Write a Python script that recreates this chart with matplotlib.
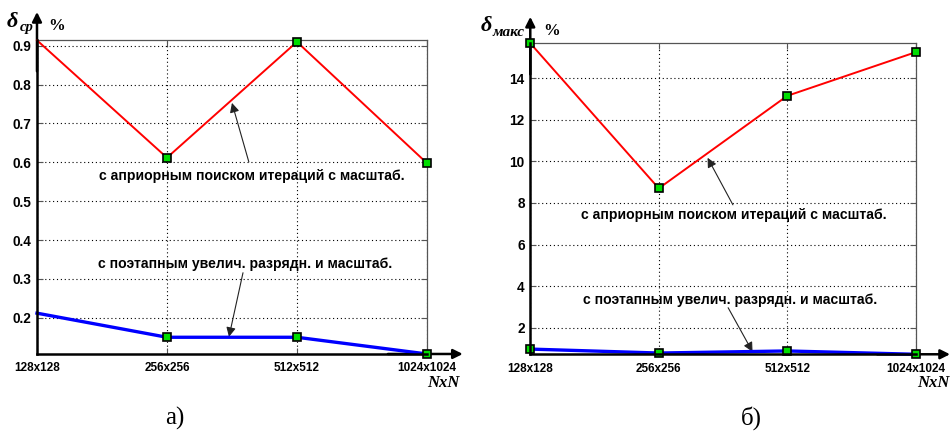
import numpy as np
import matplotlib
matplotlib.use('Agg')
import matplotlib.pyplot as plt

sizes = ['128x128', '256x256', '512x512', '1024x1024']

# а) средняя погрешность, %
avg_apriori = [0.914, 0.612, 0.910, 0.598]
avg_stepwise = [0.212, 0.150, 0.150, 0.107]

# б) максимальная погрешность, %
max_apriori = [15.68, 8.70, 13.15, 15.25]
max_stepwise = [0.97, 0.78, 0.88, 0.72]

label_apriori = 'с априорным поиском итераций с масштаб.'
label_stepwise = 'с поэтапным увелич. разрядн. и масштаб.'

sans = 'Liberation Sans'
serif = 'Liberation Serif'


def style_axes(ax, yticks, ylim):
    x = np.arange(1, len(sizes) + 1)
    ax.set_xlim(1, len(sizes))
    ax.set_ylim(*ylim)
    ax.set_xticks(x)
    ax.set_xticklabels(sizes)
    ax.set_yticks(yticks)
    ax.set_yticklabels([('%g' % t) for t in yticks])
    for lab in ax.get_xticklabels():
        lab.set_fontfamily(sans)
        lab.set_fontweight('bold')
        lab.set_fontsize(8.5)
    for lab in ax.get_yticklabels():
        lab.set_fontfamily(sans)
        lab.set_fontweight('bold')
        lab.set_fontsize(9.8)
    ax.tick_params(direction='in', top=True, right=True, length=4,
                   width=0.8, color='#555555')
    ax.tick_params(axis='x', pad=6)
    ax.tick_params(axis='y', pad=4)
    ax.grid(True, color='black', linestyle=(0, (1, 2.5)), linewidth=0.8)
    for s in ['top', 'right']:
        ax.spines[s].set_color('#555555')
        ax.spines[s].set_linewidth(0.9)
    for s in ['left', 'bottom']:
        ax.spines[s].set_color('black')
        ax.spines[s].set_linewidth(1.8)
        ax.spines[s].set_zorder(5)
    return x


def axis_arrows(ax, ytip, xtip):
    ax.annotate('', xy=(0, ytip), xytext=(0, 0.9), xycoords='axes fraction',
                arrowprops=dict(arrowstyle='-|>', color='black', lw=1.8,
                                mutation_scale=14, shrinkA=0, shrinkB=0),
                annotation_clip=False)
    ax.annotate('', xy=(xtip, 0), xytext=(0.9, 0), xycoords='axes fraction',
                arrowprops=dict(arrowstyle='-|>', color='black', lw=1.8,
                                mutation_scale=14, shrinkA=0, shrinkB=0),
                annotation_clip=False)


def pointer(ax, text_xy, tail, tip, text):
    ax.text(text_xy[0], text_xy[1], text, ha='center', va='center',
            fontfamily=sans, fontweight='bold', fontsize=10.1, zorder=6)
    ax.annotate('', xy=tip, xytext=tail,
                arrowprops=dict(arrowstyle='-|>', color='#222222', lw=0.8,
                                mutation_scale=14, shrinkA=0, shrinkB=0))


fig = plt.figure(figsize=(9.51, 4.32), dpi=100)

# ---- а)
ax1 = fig.add_axes([0.0389, 0.1806, 0.410, 0.727])
x = style_axes(ax1, [0.2, 0.3, 0.4, 0.5, 0.6, 0.7, 0.8, 0.9], (0.107, 0.915))
ax1.plot(x, avg_apriori, color='red', lw=1.4, marker='s', markersize=6,
         markerfacecolor='#00dd00', markeredgecolor='black', markeredgewidth=1.2,
         markevery=[1, 2, 3], clip_on=False, zorder=4)
ax1.plot(x, avg_stepwise, color='#0000ff', lw=2.4, marker='s', markersize=6,
         markerfacecolor='#00dd00', markeredgecolor='black', markeredgewidth=1.2,
         markevery=[1, 2, 3], clip_on=False, zorder=4)
axis_arrows(ax1, 1.089, 1.092)
pointer(ax1, (2.65, 0.565), (2.63, 0.601), (2.50, 0.753), label_apriori)
pointer(ax1, (2.60, 0.339), (2.585, 0.316), (2.477, 0.151), label_stepwise)

# ---- б)
ax2 = fig.add_axes([0.5576, 0.1799, 0.4053, 0.720])
x = style_axes(ax2, [2, 4, 6, 8, 10, 12, 14], (0.72, 15.68))
ax2.plot(x, max_apriori, color='red', lw=1.4, marker='s', markersize=6,
         markerfacecolor='#00dd00', markeredgecolor='black', markeredgewidth=1.2,
         clip_on=False, zorder=4)
ax2.plot(x, max_stepwise, color='#0000ff', lw=2.4, marker='s', markersize=6,
         markerfacecolor='#00dd00', markeredgecolor='black', markeredgewidth=1.2,
         clip_on=False, zorder=4)
axis_arrows(ax2, 1.085, 1.089)
pointer(ax2, (2.585, 7.43), (2.577, 7.91), (2.38, 10.17), label_apriori)
pointer(ax2, (2.554, 3.34), (2.54, 2.96), (2.73, 0.84), label_stepwise)

# axis names
def fx(px):
    return px / 951.0


def fy(py):
    return 1 - py / 432.0


fig.text(fx(7), fy(22), 'δ', fontfamily=serif, fontstyle='italic',
         fontweight='bold', fontsize=16, ha='left', va='center')
fig.text(fx(20), fy(28), 'ср', fontfamily=serif, fontstyle='italic',
         fontweight='bold', fontsize=10.5, ha='left', va='center')
fig.text(fx(48), fy(26), '%', fontfamily=serif, fontweight='bold',
         fontsize=12, ha='left', va='center')

fig.text(fx(481), fy(26), 'δ', fontfamily=serif, fontstyle='italic',
         fontweight='bold', fontsize=16, ha='left', va='center')
fig.text(fx(493), fy(32), 'макс', fontfamily=serif, fontstyle='italic',
         fontweight='bold', fontsize=11, ha='left', va='center')
fig.text(fx(543), fy(31), '%', fontfamily=serif, fontweight='bold',
         fontsize=12, ha='left', va='center')

fig.text(fx(460), fy(383), 'NxN', fontfamily=serif, fontstyle='italic',
         fontweight='bold', fontsize=12, ha='right', va='center')
fig.text(fx(950), fy(383), 'NxN', fontfamily=serif, fontstyle='italic',
         fontweight='bold', fontsize=12, ha='right', va='center')

fig.text(fx(175), fy(418), 'а)', fontfamily=serif, fontsize=18,
         ha='center', va='center')
fig.text(fx(751), fy(418), 'б)', fontfamily=serif, fontsize=18,
         ha='center', va='center')

fig.savefig('out.png', dpi=100)
